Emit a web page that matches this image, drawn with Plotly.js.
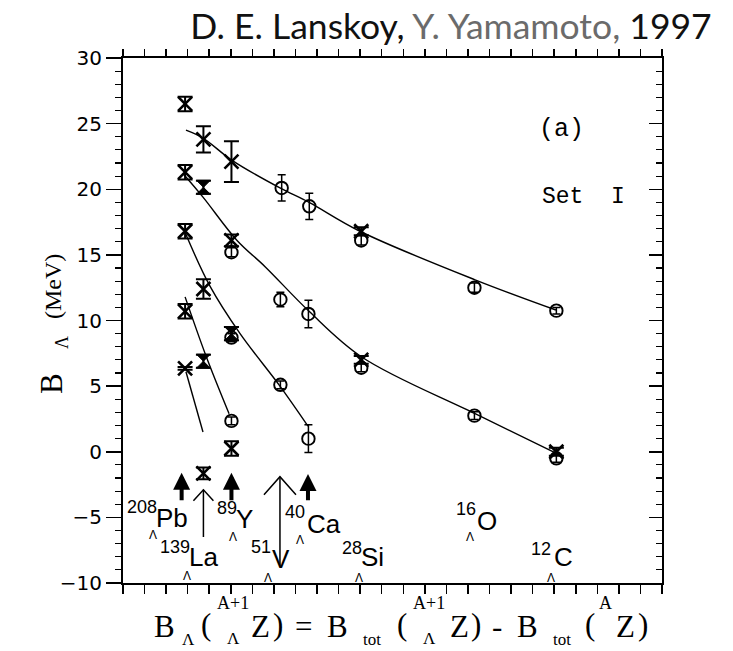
<!DOCTYPE html>
<html><head><meta charset="utf-8">
<script src="https://cdn.plot.ly/plotly-3.0.1.min.js"></script>
<style>html,body{margin:0;padding:0;background:#fff}#chart{width:733px;height:651px}</style>
</head><body><div id="chart"></div>
<script>
// ---- data (x axis: arbitrary units 0..25, no tick labels) ----
const nuclei = ['Pb', 'La', 'Y', 'V', 'Ca', 'Si', 'O', 'C'];
const massNumbers = ['208', '139', '89', '51', '40', '28', '16', '12'];
const nucleusX = [2.85, 3.75, 5.03, 7.30, 8.60, 11.05, 16.30, 20.10];

// open circles with error bars
const circX = [5.03, 7.30, 8.60, 7.30, 5.03, 8.60, 5.03, 7.36, 8.64, 11.05, 16.30, 20.10, 11.05, 16.30, 20.10];
const circY = [15.2, 11.6, 10.5, 5.1, 2.35, 1.0, 8.7, 20.1, 18.7, 16.1, 12.5, 10.75, 6.4, 2.75, -0.5];
const circErr = [0.35, 0.55, 1.05, 0.3, 0.3, 1.05, 0.3, 1.0, 1.0, 0.35, 0.35, 0.25, 0.3, 0.3, 0.3];

// crosses with error bars (hourglass look)
const crossX = [2.88, 2.88, 2.88, 2.88, 2.88, 3.73, 3.73, 5.03, 5.03, 5.03, 3.73, 11.05, 11.05, 20.10];
const crossY = [26.5, 21.3, 16.8, 10.7, 6.35, 23.8, 12.4, 22.1, 16.1, 0.25, -1.65, 16.8, 7.0, 0.0];
const crossErr = [0.55, 0.55, 0.55, 0.55, 0.1, 1.0, 0.75, 1.55, 0.45, 0.55, 0.45, 0.3, 0.3, 0.3];

// filled hourglasses
const filledX = [3.73, 3.73, 5.03];
const filledY = [20.15, 6.9, 9.0];
const filledErr = [0.5, 0.5, 0.5];

// theory curves
const curve1X = [2.92, 3.71, 5.06, 7.28, 8.63, 10.99, 16.33, 20.08];
const curve1Y = [24.5, 23.9, 22.2, 20.1, 19.0, 16.8, 13.1, 10.8];
const curve2X = [2.78, 3.71, 5.29, 6.59, 8.63, 11.09, 16.33, 20.08];
const curve2Y = [21.2, 19.4, 16.1, 14.1, 10.7, 7.2, 2.9, -0.1];
const curve3X = [2.88, 4.04, 5.43, 7.28, 8.58];
const curve3Y = [16.7, 12.6, 9.0, 5.0, 1.95];
const curve4X = [2.88, 3.85, 4.92];
const curve4Y = [11.8, 7.3, 2.9];
const curve5X = [2.92, 3.71];
const curve5Y = [6.1, 1.5];

// arrows
const thickArrowX = [2.72, 5.03, 8.58];
const thickArrowBase = [-3.8, -3.8, -3.8];
const thickArrowTip = [-1.6, -1.6, -1.7];
const thinArrowX = [3.73, 7.28];
const thinArrowBase = [-6.6, -8.8];
const thinArrowTip = [-2.9, -1.9];

// y tick values
const yTicks = [-10, -5, 0, 5, 10, 15, 20, 25, 30];

// ---- layout helpers ----
const W = 733, H = 651, L = 123, R = 71, T = 58, B = 68;
const PW = W - L - R, PH = H - T - B;
const px2paperX = p => (p - L) / PW;
const px2paperY = p => (H - B - p) / PH;

const traces = [];
[[curve1X, curve1Y], [curve2X, curve2Y], [curve3X, curve3Y], [curve4X, curve4Y], [curve5X, curve5Y]].forEach(c => {
  traces.push({x: c[0], y: c[1], mode: 'lines', line: {color: 'black', width: 1.4, shape: 'spline', smoothing: 1}, hoverinfo: 'skip', showlegend: false});
});
traces.push({x: circX, y: circY, mode: 'markers', showlegend: false,
  marker: {symbol: 'circle-open', size: 12.5, color: 'black', line: {width: 1.9, color: 'black'}},
  error_y: {type: 'data', array: circErr, visible: true, color: 'black', thickness: 1.5, width: 4}});
traces.push({x: crossX, y: crossY, mode: 'markers', showlegend: false,
  marker: {symbol: 'x-thin-open', size: 14, color: 'black', line: {width: 2.6, color: 'black'}},
  error_y: {type: 'data', array: crossErr, visible: true, color: 'black', thickness: 2, width: 7.5}});
traces.push({x: filledX, y: filledY, mode: 'markers', showlegend: false,
  marker: {symbol: 'hourglass', size: 14, color: 'black', line: {width: 1, color: 'black'}},
  error_y: {type: 'data', array: filledErr, visible: true, color: 'black', thickness: 2, width: 7.5}});

const annotations = [];
const shapes = [];
// thick arrows
thickArrowX.forEach((x, i) => {
  annotations.push({x: x, y: thickArrowTip[i], ax: x, ay: thickArrowBase[i], xref: 'x', yref: 'y', axref: 'x', ayref: 'y',
    text: '', showarrow: true, arrowhead: 2, arrowsize: 0.85, arrowwidth: 4, arrowcolor: 'black', standoff: 0});
});
// thin arrows with open chevron heads
const chevron = [[10, 11], [16, 18]];
thinArrowX.forEach((x, i) => {
  annotations.push({x: x, y: thinArrowTip[i], ax: x, ay: thinArrowBase[i], xref: 'x', yref: 'y', axref: 'x', ayref: 'y',
    text: '', showarrow: true, arrowhead: 0, arrowwidth: 1.5, arrowcolor: 'black', standoff: 0});
  const w = chevron[i][0], h = chevron[i][1];
  shapes.push({type: 'path', xref: 'x', yref: 'y', xsizemode: 'pixel', ysizemode: 'pixel', xanchor: x, yanchor: thinArrowTip[i],
    path: `M${-w},${-h}L0,0L${w},${-h}`, line: {color: 'black', width: 1.5}});
});

// nucleus labels: [dx mass, y mass, dx sym, y sym, dx lambda, y lambda]
const labelPos = [
  [-42, -4.2, -12, -5.05, -31, -6.35],
  [-29, -7.26, 0, -8.05, -17, -9.5],
  [-4, -4.29, 13, -5.13, 2, -6.5],
  [-19, -7.26, 1, -8.2, -12, -9.6],
  [-13, -4.6, 16, -5.5, -8, -6.7],
  [-9, -7.34, 11, -8.0, -2, -9.6],
  [-8, -4.36, 13, -5.27, -4, -6.5],
  [-15, -7.41, 7, -8.0, -5, -9.6]
];
const sans = 'Liberation Sans, Arial, sans-serif';
nuclei.forEach((n, i) => {
  const p = labelPos[i];
  annotations.push({x: nucleusX[i], y: p[1], xshift: p[0], xref: 'x', yref: 'y', text: massNumbers[i], showarrow: false,
    font: {family: sans, size: 18, color: 'black'}, xanchor: 'center', yanchor: 'middle'});
  annotations.push({x: nucleusX[i], y: p[3], xshift: p[2], xref: 'x', yref: 'y', text: n, showarrow: false,
    font: {family: sans, size: 26, color: 'black'}, xanchor: 'center', yanchor: 'middle'});
  annotations.push({x: nucleusX[i], y: p[5], xshift: p[4], xref: 'x', yref: 'y', text: 'Λ', showarrow: false,
    font: {family: sans, size: 12, color: 'black'}, xanchor: 'center', yanchor: 'middle'});
});

// panel texts
const mono = 'Liberation Mono, Courier New, monospace';
annotations.push({x: 20.36, y: 24.55, xref: 'x', yref: 'y', text: '(a)', showarrow: false, font: {family: mono, size: 25, color: 'black'}});
annotations.push({x: 21.34, y: 19.4, xref: 'x', yref: 'y', text: 'Set\u00a0\u00a0I', showarrow: false, font: {family: mono, size: 23, color: 'black'}});

// y axis title, as rotated pieces: [text, x px, y px, size]
const serif = 'Liberation Serif, Times New Roman, serif';
const ylabelPieces = [['B', 51, 384, 31], ['Λ', 62, 343, 18], ['(MeV)', 53, 287, 24]];
ylabelPieces.forEach(p => {
  annotations.push({x: px2paperX(p[1]), y: px2paperY(p[2]), xref: 'paper', yref: 'paper', textangle: -90, showarrow: false,
    text: p[0], font: {family: serif, size: p[3], color: 'black'}, xanchor: 'center', yanchor: 'middle'});
});

// x axis formula, built from stacked pieces: [text, x px, y px, size]
const xlabelPieces = [
  ['B', 164, 626, 31], ['Λ', 188, 639, 17], ['(', 206, 624, 31], ['A+1', 233, 603, 18], ['Λ', 233, 638, 17],
  ['Z', 260, 626, 31], [')', 278, 624, 31], ['=', 303, 626, 31],
  ['B', 337, 626, 31], ['tot', 372, 639, 17], ['(', 402, 624, 31], ['A+1', 429, 603, 18], ['Λ', 429, 638, 17],
  ['Z', 459, 626, 31], [')', 476, 624, 31], ['-', 497, 626, 31],
  ['B', 527, 626, 31], ['tot', 562, 639, 17], ['(', 590, 624, 31], ['A', 605, 603, 18],
  ['Z', 625, 626, 31], [')', 643, 624, 31]
];
xlabelPieces.forEach(p => {
  annotations.push({x: px2paperX(p[1]), y: px2paperY(p[2]), xref: 'paper', yref: 'paper', text: p[0], showarrow: false,
    font: {family: serif, size: p[3], color: 'black'}, xanchor: 'center', yanchor: 'middle'});
});

const axisCommon = {showgrid: false, zeroline: false, showline: true, linecolor: 'black', linewidth: 2, tickcolor: 'black', fixedrange: true};
const layout = {
  width: W, height: H,
  margin: {l: L, r: R, t: T, b: B, pad: 0},
  paper_bgcolor: '#ffffff', plot_bgcolor: '#ffffff',
  showlegend: false,
  title: {text: 'D. E. Lanskoy, <span style="color:#6b6b6b">Y. Yamamoto,</span> 1997',
    font: {family: 'Lato, Open Sans, sans-serif', size: 35.5, color: '#111111'},
    x: 451 / W, xanchor: 'center', xref: 'container', y: 1 - 27 / H, yanchor: 'middle', yref: 'container'},
  xaxis: Object.assign({}, axisCommon, {range: [0, 25], dtick: 1, tick0: 0, ticks: 'outside', ticklen: 9, tickwidth: 1.5, showticklabels: false}),
  xaxis2: Object.assign({}, axisCommon, {overlaying: 'x', side: 'top', range: [0, 25], dtick: 1, tick0: 0, ticks: 'outside', ticklen: 7, tickwidth: 1.5, showticklabels: false}),
  yaxis: Object.assign({}, axisCommon, {range: [-10, 30], tickvals: yTicks, ticktext: yTicks.map(v => v < 0 ? '\u2212' + Math.abs(v) : String(v)),
    ticks: 'outside', ticklen: 15, tickwidth: 1.5, tickfont: {family: 'DejaVu Sans, sans-serif', size: 20, color: 'black'},
    minor: {dtick: 1, ticks: 'outside', ticklen: 6, tickwidth: 1.2, tickcolor: 'black'}}),
  yaxis2: Object.assign({}, axisCommon, {overlaying: 'y', side: 'right', range: [-10, 30], dtick: 5, ticks: 'inside', ticklen: 13, tickwidth: 1.5, showticklabels: false,
    minor: {dtick: 1, ticks: 'inside', ticklen: 6, tickwidth: 1.2, tickcolor: 'black'}}),
  annotations: annotations,
  shapes: shapes
};
// invisible trace to activate the mirror axes
traces.push({x: [0], y: [0], xaxis: 'x2', yaxis: 'y2', mode: 'markers', marker: {opacity: 0}, hoverinfo: 'skip', showlegend: false});

Plotly.newPlot('chart', traces, layout, {staticPlot: true, displayModeBar: false});
</script>
</body></html>
